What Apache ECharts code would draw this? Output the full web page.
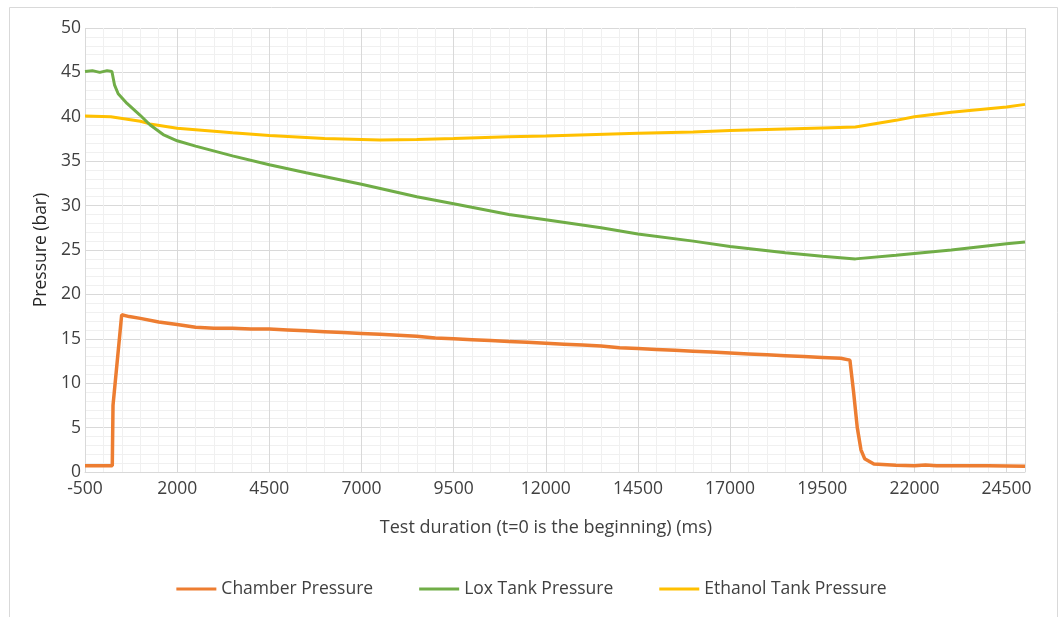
<!DOCTYPE html>
<html>
<head>
<meta charset="utf-8">
<script src="https://cdn.jsdelivr.net/npm/echarts@6/dist/echarts.min.js"></script>
<style>
  html, body { margin: 0; padding: 0; background: #ffffff; }
  #chart { width: 1063px; height: 617px; }
</style>
</head>
<body>
<div id="chart"></div>
<script>
// ---- data ----
const seriesNames = ['Chamber Pressure', 'Lox Tank Pressure', 'Ethanol Tank Pressure'];

const chamberT = [-500, 0, 240, 260, 495, 700, 1000, 1500, 2000, 2500, 3000, 3500, 4000, 4500, 5000, 5500, 6000, 6500, 7000, 7500, 8000, 8500, 9000, 9500, 10000, 10500, 11000, 11500, 12000, 12500, 13000, 13500, 14000, 14500, 15000, 15500, 16000, 16500, 17000, 17500, 18000, 18500, 19000, 19500, 20000, 20250, 20350, 20450, 20550, 20650, 20900, 21500, 22000, 22300, 22600, 23000, 24000, 25000];
const chamberP = [0.7, 0.7, 0.7, 7.5, 17.7, 17.5, 17.3, 16.9, 16.6, 16.3, 16.2, 16.2, 16.1, 16.1, 16.0, 15.9, 15.8, 15.7, 15.6, 15.5, 15.4, 15.3, 15.1, 15.0, 14.9, 14.8, 14.7, 14.6, 14.5, 14.4, 14.3, 14.2, 14.0, 13.9, 13.8, 13.7, 13.6, 13.5, 13.4, 13.3, 13.2, 13.1, 13.0, 12.9, 12.8, 12.6, 9.0, 5.0, 2.5, 1.5, 0.9, 0.75, 0.7, 0.8, 0.7, 0.7, 0.7, 0.65];

const loxT = [-500, -300, -100, 100, 230, 300, 400, 640, 990, 1260, 1620, 2000, 2500, 3500, 4500, 5500, 7000, 8500, 9500, 11000, 12000, 13500, 14500, 16000, 17000, 18500, 19500, 20400, 21500, 22000, 23000, 24500, 25000];
const loxP = [45.1, 45.2, 45.0, 45.2, 45.1, 43.6, 42.6, 41.5, 40.2, 39.1, 38.0, 37.3, 36.7, 35.6, 34.6, 33.7, 32.4, 31.0, 30.2, 29.0, 28.4, 27.5, 26.8, 26.0, 25.4, 24.7, 24.3, 24.0, 24.4, 24.6, 25.0, 25.7, 25.9];

const ethT = [-500, 200, 1000, 1260, 2000, 3500, 4500, 6000, 7500, 8500, 9500, 11000, 12000, 14500, 16000, 17000, 19500, 20400, 21500, 22000, 23000, 24500, 25000];
const ethP = [40.1, 40.0, 39.5, 39.2, 38.7, 38.2, 37.9, 37.55, 37.4, 37.45, 37.55, 37.75, 37.85, 38.15, 38.3, 38.45, 38.75, 38.85, 39.6, 40.0, 40.5, 41.1, 41.4];

const xMin = -500, xMax = 25000, xStep = 2500;
const yMin = 0, yMax = 50, yStep = 5;

const colors = ['#ed7d31', '#70ad47', '#ffc000'];
const pair = (t, p) => t.map((v, i) => [v, p[i]]);

const chart = echarts.init(document.getElementById('chart'));
const font = '"Open Sans", Lato, sans-serif';
chart.setOption({
  animation: false,
  backgroundColor: '#ffffff',
  color: colors,
  graphic: [{
    type: 'rect', left: 7, top: 5,
    shape: { width: 1048, height: 640 },
    style: { fill: 'none', stroke: '#d9d9d9', lineWidth: 1 }
  }],
  grid: { left: 85, right: 38, top: 28, bottom: 145 },
  legend: {
    data: seriesNames, bottom: 14, left: 'center',
    itemWidth: 40, itemHeight: 3, itemGap: 46,
    icon: 'rect',
    textStyle: { color: '#404040', fontSize: 17.5, fontFamily: font }
  },
  xAxis: {
    type: 'value', min: xMin, max: xMax, interval: xStep,
    name: 'Test duration (t=0 is the beginning) (ms)',
    nameLocation: 'middle', nameGap: 47,
    nameTextStyle: { color: '#404040', fontSize: 18, fontFamily: font, padding: [0, 18, 0, 0] },
    axisLine: { show: true, lineStyle: { color: '#d9d9d9' } },
    axisTick: { show: false },
    axisLabel: { color: '#404040', fontSize: 17.5, fontFamily: font, margin: 8, showMaxLabel: false,
      formatter: v => String(v) },
    splitLine: { show: true, lineStyle: { color: '#d9d9d9', width: 1 } },
    minorTick: { show: false, splitNumber: 5 },
    minorSplitLine: { show: true, lineStyle: { color: '#f0f0f0', width: 1 } }
  },
  yAxis: {
    type: 'value', min: yMin, max: yMax, interval: yStep,
    name: 'Pressure (bar)', nameLocation: 'middle', nameGap: 27,
    nameTextStyle: { color: '#262626', fontSize: 17.5, fontFamily: font },
    axisLine: { show: false },
    axisTick: { show: false },
    axisLabel: { color: '#404040', fontSize: 17.5, fontFamily: font, margin: 4, formatter: v => String(v) },
    splitLine: { show: true, lineStyle: { color: '#d9d9d9', width: 1 } },
    minorTick: { show: false, splitNumber: 5 },
    minorSplitLine: { show: true, lineStyle: { color: '#f0f0f0', width: 1 } }
  },
  series: [
    { name: seriesNames[0], type: 'line', showSymbol: false, data: pair(chamberT, chamberP), lineStyle: { width: 3.5 }, z: 4 },
    { name: seriesNames[1], type: 'line', showSymbol: false, data: pair(loxT, loxP), lineStyle: { width: 3 }, z: 3 },
    { name: seriesNames[2], type: 'line', showSymbol: false, data: pair(ethT, ethP), lineStyle: { width: 3 }, z: 2 }
  ]
});
</script>
</body>
</html>
